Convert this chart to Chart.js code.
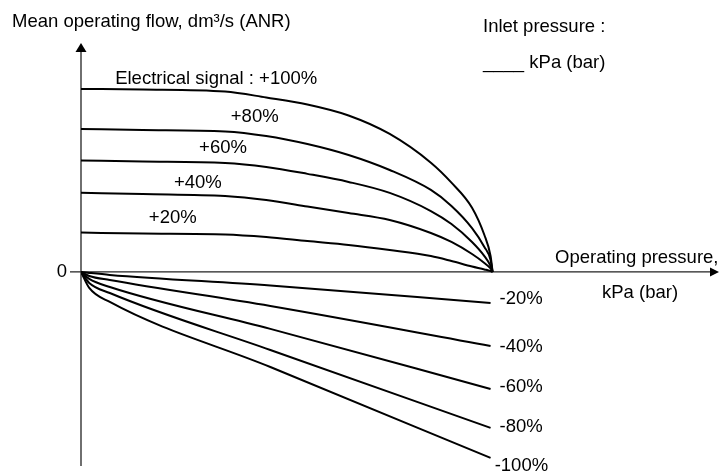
<!DOCTYPE html>
<html>
<head>
<meta charset="utf-8">
<script src="https://cdn.jsdelivr.net/npm/chart.js@4"></script>
<style>
  html, body { margin: 0; padding: 0; background: #fff; }
  #wrap { width: 720px; height: 476px; }
</style>
</head>
<body>
<div id="wrap"><canvas id="flowChart" width="720" height="476"></canvas></div>
<script>
// Operating pressure (relative units, 10 = inlet pressure)
const pressurePos = [0, 1.5, 3.5, 4.5, 5.5, 6.5, 7.5, 8.5, 9.0, 9.5, 9.8, 9.95, 10];
const pressureNeg = [0, 0.2, 0.7, 4.6, 9.95];

// Mean operating flow for each electrical signal (relative units)
const flowP100 = [10.0, 9.97, 9.86, 9.53, 9.15, 8.55, 7.54, 5.97, 4.88, 3.51, 2.02, 0.87, 0];
const flowP80  = [7.81, 7.76, 7.68, 7.43, 6.99, 6.39, 5.57, 4.48, 3.61, 2.40, 1.37, 0.66, 0];
const flowP60  = [6.09, 6.04, 5.96, 5.74, 5.36, 4.92, 4.32, 3.33, 2.62, 1.64, 0.87, 0.33, 0];
const flowP40  = [4.33, 4.26, 4.15, 3.93, 3.58, 3.22, 2.84, 2.13, 1.64, 0.98, 0.49, 0.19, 0];
const flowP20  = [2.15, 2.10, 2.05, 1.91, 1.69, 1.48, 1.20, 0.87, 0.60, 0.30, 0.14, 0.05, 0];
const flowN20  = [0, -0.05, -0.16, -0.74, -1.69];
const flowN40  = [0, -0.22, -0.44, -1.86, -4.04];
const flowN60  = [0, -0.38, -0.82, -3.11, -6.39];
const flowN80  = [0, -0.60, -1.15, -4.26, -8.52];
const flowN100 = [0, -0.87, -1.64, -5.19, -10.16];

const signalNames = ['+100%', '+80%', '+60%', '+40%', '+20%', '-20%', '-40%', '-60%', '-80%', '-100%'];

// label anchors in data units [text, x, y, align]
const curveLabels = [
  ['Electrical signal : +100%', 0.83, 10.55, 'left'],
  ['+80%', 4.22, 8.47, 'center'],
  ['+60%', 3.45, 6.78, 'center'],
  ['+40%', 2.84, 4.86, 'center'],
  ['+20%', 2.23, 2.95, 'center'],
  ['-20%', 10.17, -1.48, 'left'],
  ['-40%', 10.17, -4.10, 'left'],
  ['-60%', 10.17, -6.28, 'left'],
  ['-80%', 10.17, -8.47, 'left'],
  ['-100%', 10.05, -10.6, 'left']
];

const FONT = '18.5px Arial, "Liberation Sans", sans-serif';

function toPoints(xs, ys) {
  return xs.map((x, i) => ({ x: x, y: ys[i] }));
}

const seriesList = [
  toPoints(pressurePos, flowP100),
  toPoints(pressurePos, flowP80),
  toPoints(pressurePos, flowP60),
  toPoints(pressurePos, flowP40),
  toPoints(pressurePos, flowP20),
  toPoints(pressureNeg, flowN20),
  toPoints(pressureNeg, flowN40),
  toPoints(pressureNeg, flowN60),
  toPoints(pressureNeg, flowN80),
  toPoints(pressureNeg, flowN100)
];

const datasets = seriesList.map((pts, i) => ({
  label: signalNames[i],
  data: pts,
  borderColor: '#000',
  borderWidth: 2,
  pointRadius: 0,
  fill: false,
  cubicInterpolationMode: 'monotone'
}));

// Axes with arrows and all the text
const diagramPlugin = {
  id: 'diagram',
  beforeDatasetsDraw(chart) {
    const ctx = chart.ctx;
    const xs = chart.scales.x, ys = chart.scales.y;
    const x0 = xs.getPixelForValue(0);
    const y0 = ys.getPixelForValue(0);
    const area = chart.chartArea;
    ctx.save();
    ctx.strokeStyle = '#222';
    ctx.fillStyle = '#000';
    ctx.lineWidth = 1.3;
    // y axis
    ctx.beginPath();
    ctx.moveTo(x0, area.bottom);
    ctx.lineTo(x0, area.top + 6);
    ctx.stroke();
    ctx.beginPath();
    ctx.moveTo(x0, area.top - 2);
    ctx.lineTo(x0 - 5.5, area.top + 7);
    ctx.lineTo(x0 + 5.5, area.top + 7);
    ctx.closePath();
    ctx.fill();
    // x axis with small tick at 0
    ctx.beginPath();
    ctx.moveTo(x0 - 11, y0);
    ctx.lineTo(area.right - 8, y0);
    ctx.stroke();
    ctx.beginPath();
    ctx.moveTo(area.right, y0);
    ctx.lineTo(area.right - 9, y0 - 4.5);
    ctx.lineTo(area.right - 9, y0 + 4.5);
    ctx.closePath();
    ctx.fill();
    ctx.restore();
  },
  afterDatasetsDraw(chart) {
    const ctx = chart.ctx;
    const xs = chart.scales.x, ys = chart.scales.y;
    const y0 = ys.getPixelForValue(0);
    const x0 = xs.getPixelForValue(0);
    ctx.save();
    ctx.font = FONT;
    ctx.fillStyle = '#000';
    ctx.textBaseline = 'middle';
    curveLabels.forEach(([t, x, y, align]) => {
      ctx.textAlign = align;
      ctx.fillText(t, xs.getPixelForValue(x), ys.getPixelForValue(y));
    });
    ctx.textAlign = 'right';
    ctx.fillText('0', x0 - 14, y0);
    ctx.textAlign = 'left';
    ctx.fillText('Mean operating flow, dm³/s (ANR)', 12, 22);
    ctx.fillText('Inlet pressure :', 483, 27);
    ctx.fillText('____ kPa (bar)', 483, 63);
    ctx.fillText('Operating pressure,', 555, y0 - 14);
    ctx.fillText('kPa (bar)', 602, y0 + 21);
    ctx.restore();
  }
};

new Chart(document.getElementById('flowChart'), {
  type: 'line',
  data: { datasets: datasets },
  options: {
    responsive: false,
    animation: false,
    devicePixelRatio: 1,
    layout: { padding: { left: 81, right: 1, top: 45, bottom: 10 } },
    scales: {
      x: { type: 'linear', min: 0, max: 15.5, display: false },
      y: { type: 'linear', min: -10.6, max: 12.4, display: false }
    },
    plugins: {
      legend: { display: false },
      tooltip: { enabled: false }
    }
  },
  plugins: [diagramPlugin]
});
</script>
</body>
</html>
